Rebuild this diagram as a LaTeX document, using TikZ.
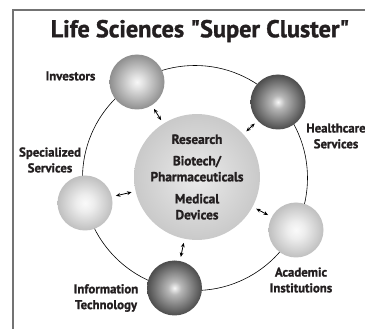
\documentclass[tikz,border=0pt]{standalone}
\usepackage{fontspec}
\setmainfont{PT Sans}[BoldFeatures={FakeBold=1.3}]
\usetikzlibrary{arrows.meta}
\pgfdeclareradialshading{sphmid}{\pgfpoint{0bp}{0bp}}{gray(0bp)=(0.97); gray(6bp)=(0.88); gray(25bp)=(0.56); gray(50bp)=(0.56)}
\pgfdeclareradialshading{sphdark}{\pgfpoint{0bp}{0bp}}{gray(0bp)=(0.97); gray(6bp)=(0.72); gray(25bp)=(0.30); gray(50bp)=(0.30)}
\pgfdeclareradialshading{sphlight}{\pgfpoint{0bp}{0bp}}{gray(0bp)=(0.98); gray(8bp)=(0.93); gray(25bp)=(0.75); gray(50bp)=(0.75)}
\pgfdeclareradialshading{hubshade}{\pgfpoint{0bp}{0bp}}{gray(0bp)=(0.92); gray(25bp)=(0.79); gray(50bp)=(0.79)}
\definecolor{ink}{HTML}{231F20}
\begin{document}
\begin{tikzpicture}[x=1pt,y=-1pt,
  sphere/.style={circle, minimum size=55pt, inner sep=0pt, draw=none},
  lbl/.style={inner sep=0pt, align=center, text=ink, font=\fontsize{12.8}{15.8}\selectfont\bfseries},
  link/.style={line width=0.8pt, {Stealth[length=4.5pt,width=3.8pt]}-{Stealth[length=4.5pt,width=3.8pt]}, shorten <=4pt, shorten >=4pt},
  frame/.style={draw=black!55, line width=1.2pt}]
\useasboundingbox (0,0) rectangle (365,329);
\coordinate (fa) at (13,329);
\coordinate (fb) at (13,10);
\coordinate (fc) at (365,10);
\draw[frame] (fa) -- (fb) -- (fc);
\node[inner sep=0pt, text=ink, font=\fontsize{24.3}{27}\selectfont\bfseries] (title) at (200,31) {Life Sciences \textquotedbl Super Cluster\textquotedbl};
\coordinate (rc) at (195,178);
\draw[line width=0.6pt] (rc) circle[radius=112.5pt];
\node[circle, minimum size=110pt, inner sep=0pt, shading=hubshade, lbl, font=\fontsize{13.3}{16}\selectfont\bfseries] (hub) at (197,177) {Research\\[5.5pt]Biotech/\\Pharmaceuticals\\[6pt]Medical\\Devices};
\node[sphere, shading=sphmid] (inv) at (137,82) {};
\node[sphere, shading=sphdark] (hc) at (278,102) {};
\node[sphere, shading=sphlight] (spec) at (85,203) {};
\node[sphere, shading=sphlight] (acad) at (296,230) {};
\node[sphere, shading=sphdark] (it) at (174.5,288) {};
\node[lbl] (invl) at (70.5,76) {Investors};
\node[lbl] (hcl) at (336,136) {Healthcare\\Services};
\node[lbl] (specl) at (50,160) {Specialized\\Services};
\node[lbl] (acadl) at (301,280) {Academic\\Institutions};
\node[lbl] (itl) at (106,298) {Information\\Technology};
\draw[link] (inv) -- (hub);
\draw[link] (hc) -- (hub);
\draw[link] (spec) -- (hub);
\draw[link] (acad) -- (hub);
\draw[link] (it) -- (hub);
\end{tikzpicture}
\end{document}
